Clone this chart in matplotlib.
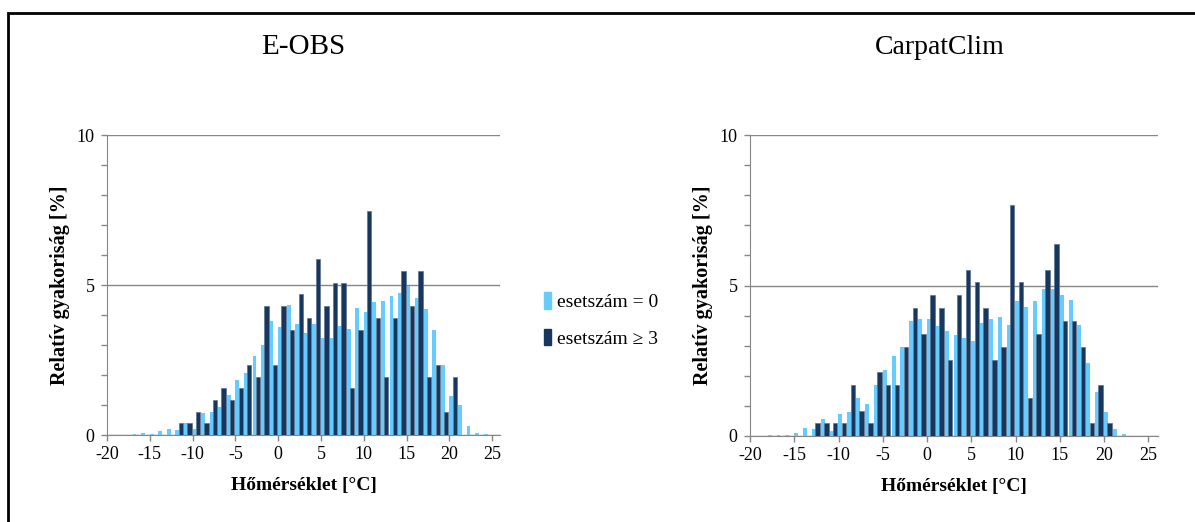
import numpy as np
import matplotlib.pyplot as plt
from matplotlib.patches import Patch, Rectangle

plt.rcParams['font.family'] = ['Liberation Serif', 'DejaVu Serif']
plt.rcParams['axes.unicode_minus'] = False

# bin starts (degC) and relative frequencies [%]
eobs_k0 = np.arange(-17, 25)
eobs_0 = [0.03, 0.06, 0.03, 0.12, 0.19, 0.16, 0.39, 0.21, 0.72, 0.76, 0.92, 1.32,
          1.82, 2.06, 2.62, 2.99, 3.79, 3.60, 4.33, 3.70, 3.40, 3.70, 3.23, 3.23,
          3.63, 3.53, 4.22, 4.10, 4.43, 4.47, 4.63, 4.73, 4.98, 4.57, 4.20, 3.50,
          2.32, 1.29, 0.99, 0.29, 0.06, 0.03]
eobs_k3 = np.arange(-12, 21)
eobs_3 = [0.39, 0.39, 0.76, 0.39, 1.16, 1.57, 1.16, 1.57, 2.32, 1.92, 4.30, 2.32,
          4.30, 3.50, 4.70, 3.90, 5.88, 4.30, 5.07, 5.07, 1.57, 3.50, 7.46, 3.90,
          1.92, 3.90, 5.47, 4.30, 5.47, 1.92, 2.32, 0.76, 1.92]

carp_k0 = np.arange(-18, 23)
carp_0 = [0.03, 0.03, 0.03, 0.09, 0.27, 0.22, 0.57, 0.17, 0.73, 0.80, 1.26, 1.06,
          1.70, 2.20, 2.67, 2.97, 3.81, 3.90, 3.90, 3.67, 3.50, 3.37, 3.27, 3.14,
          3.74, 3.90, 3.95, 3.70, 4.48, 4.28, 4.48, 4.88, 4.88, 4.68, 4.51, 3.70,
          2.43, 1.46, 0.80, 0.23, 0.07]
carp_k3 = np.arange(-13, 21)
carp_3 = [0.42, 0.42, 0.42, 0.42, 1.70, 0.83, 0.42, 2.13, 1.70, 1.70, 2.97, 4.25,
          3.40, 4.68, 4.25, 2.54, 4.68, 5.51, 5.11, 4.25, 2.54, 2.97, 7.66, 5.11,
          1.26, 3.40, 5.51, 6.39, 3.81, 3.81, 2.97, 0.42, 1.70, 0.42]

titles = ['E-OBS', 'CarpatClim']
labels = ['esetszám = 0', 'esetszám ≥ 3']
c_light = '#66CCFF'
c_dark = '#17375E'
grey = '#868686'

fig = plt.figure(figsize=(11.95, 5.22), dpi=100)
ax1 = fig.add_axes([107/1195, 87/522, 393/1195, 300/522])
ax2 = fig.add_axes([750/1195, 86/522, 408/1195, 301/522])

panels = [(ax1, eobs_k0, eobs_0, eobs_k3, eobs_3, 25.9),
          (ax2, carp_k0, carp_0, carp_k3, carp_3, 26.1)]

for ax, k0, v0, k3, v3, xmax in panels:
    ax.bar(k0 + 0.22, v0, width=0.45, color=c_light, zorder=2)
    ax.bar(k3 + 0.62, v3, width=0.5, color=c_dark, edgecolor='#5b7390',
           linewidth=0.5, zorder=3)
    ax.set_xlim(-20, xmax)
    ax.set_ylim(0, 10)
    ax.set_xticks(np.arange(-20, 26, 5))
    ax.set_yticks([0, 5, 10])
    ax.set_yticks(np.arange(0, 11, 1), minor=True)
    ax.tick_params(axis='both', colors=grey, labelcolor='black', labelsize=13,
                   length=4, width=1)
    ax.tick_params(axis='y', which='minor', colors=grey, length=4, width=1)
    ax.tick_params(axis='x', pad=4)
    ax.tick_params(axis='y', pad=5)
    ax.grid(axis='y', color=grey, linewidth=1, zorder=0)
    for s in ['top', 'right']:
        ax.spines[s].set_visible(False)
    for s in ['left', 'bottom']:
        ax.spines[s].set_color(grey)
    ax.set_xlabel('Hőmérséklet [°C]', fontsize=14, fontweight='bold', labelpad=10)
    ax.set_ylabel('Relatív gyakoriság [%]', fontsize=14.5, fontweight='bold',
                  labelpad=5)

fig.text(303/1195, 1 - 47/522, titles[0], fontsize=21, ha='center', va='center')
fig.text(940/1195, 1 - 47/522, titles[1], fontsize=20, ha='center', va='center')

handles = [Patch(color=c_light), Patch(color=c_dark)]
fig.legend(handles, labels, loc='center left', bbox_to_anchor=(526/1195, 1 - 320/522),
           frameon=False, fontsize=14, handlelength=0.4, handleheight=0.9,
           handletextpad=0.3, labelspacing=0.9)

fig.add_artist(Rectangle((8/1195, -0.1), 1.2, (522 - 13)/522 + 0.1,
                         transform=fig.transFigure, fill=False,
                         edgecolor='black', linewidth=2))

fig.savefig('out.png', dpi=100)
